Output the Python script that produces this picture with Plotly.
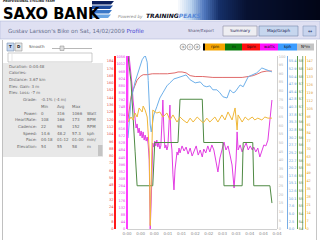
import numpy as np
import plotly.graph_objects as go

W, H = 320, 240
FONT = "DejaVu Sans, Verdana, sans-serif"

# ---------------- data ----------------
x_tick_vals = [0, 27, 54, 81, 108, 135, 162, 189, 216, 243, 270, 297]
x_tick_text = ["0:00", "0:00", "0:00", "0:01", "0:01", "0:02", "0:02", "0:03", "0:03", "0:04", "0:04", "0:04"]

power_t = [0, 2, 4, 6, 8, 10, 12, 14, 16, 18, 20, 22, 24, 26, 28, 30, 32, 34, 36, 38, 40, 42, 44, 46, 48, 50,
           51, 53, 55, 57, 59, 61, 63, 65, 67, 69, 71, 73, 75, 77, 79, 81, 83, 85, 87, 89, 91, 93, 95, 97, 99,
           101, 103, 105, 109, 113, 117, 121, 125, 129, 133, 137, 141, 145, 149, 152, 156, 160, 164, 168, 172,
           176, 180, 184, 188, 192, 196, 200, 204, 208, 212, 216, 218, 220, 224, 228, 232, 236, 240, 244, 248,
           251, 255, 259, 263, 267, 271, 275, 279, 283, 287]
power_w = [0, 1030, 1066, 1010, 960, 884, 792, 718, 657, 620, 645, 590, 620, 571, 602, 559, 596, 546, 577, 540,
           565, 516, 424, 0, 178, 485,
           528, 503, 540, 510, 546, 503, 528, 491, 510, 639, 792, 608, 497, 516, 485, 510, 620, 761, 546, 485,
           332, 240, 362, 436, 473,
           454, 497, 467, 510, 479, 503, 460, 497, 448, 485, 510, 454, 485, 442, 491, 467, 510, 473, 516, 485,
           424, 350, 436, 485, 534, 485, 510, 454, 393, 252, 424, 596, 485, 516, 473, 503, 528, 485, 510, 485,
           503, 473, 497, 442, 485, 516, 510, 546, 669, 792]

hr_t = [0, 4, 8, 12, 16, 20, 26, 32, 40, 50, 65, 80, 95, 101, 109, 117, 125, 135, 150, 170, 190, 210, 228,
        240, 250, 259, 267, 277, 287]
hr_bpm = [112, 130, 145, 152, 158, 163, 167, 169, 169, 170, 170, 170, 171, 172, 172, 171, 168, 167, 167, 166,
          166, 166, 166, 167, 168, 170, 172, 173, 173]

speed_t = [2, 8, 16, 24, 30, 36, 40, 42, 44, 46, 48, 53, 59, 65, 71, 79, 85, 93, 99, 109, 117, 125, 135, 145,
           152, 158, 164, 170, 178, 184, 190, 198, 204, 210, 214, 224, 230, 240, 248, 257, 267, 277, 287]
speed_kph = [30, 42.6, 48.5, 53.1, 55.8, 57.3, 55, 49, 41, 34.3, 32, 37.6, 40.3, 43.2, 44.9, 47.2, 48.2, 49.5,
             49.8, 50.5, 50.8, 49.2, 48.2, 48.5, 47.2, 46.9, 47.2, 45.9, 45.9, 44.9, 43.6, 43.2, 45.9, 44.9,
             45.2, 47.5, 46.9, 50.2, 50.8, 51.5, 53.1, 52.5, 51.8]

cad_t = [2, 8, 12, 16, 20, 24, 30, 32, 36, 40, 44, 46, 48, 51, 59, 65, 71, 79, 85, 91, 99, 105, 111, 119, 125,
         131, 139, 145, 151, 158, 164, 174, 180, 188, 194, 200, 208, 214, 218, 220, 228, 234, 240, 248, 253,
         259, 267, 273, 279, 287]
cad_rpm = [93.6, 98, 95.4, 101.5, 98, 105.9, 102.4, 107.6, 104, 98, 69, 3, 43, 104, 101.5, 102.4, 98, 101.5,
           95.4, 99.8, 93.6, 98, 95.4, 92.8, 97, 93.6, 98, 95.4, 92.8, 97, 93.6, 98, 93.6, 99.8, 95.4, 102.4,
           95.4, 105.9, 86.6, 99.8, 93.6, 98, 95.4, 98, 95.4, 97, 95.4, 98, 97, 97]

elev_t = [2, 8, 16, 20, 51, 55, 101, 105, 149, 152, 190, 192, 228, 230, 249, 251, 283, 287]
elev_m = [58, 57.4, 55.8, 55, 55, 56, 56, 57, 57, 56, 56, 55, 55, 56, 56, 55, 55, 54.6]

speed_tick_text = ["0.0", "2.5", "5.0", "7.6", "10.1", "12.6", "15.1", "17.6", "20.2", "22.7", "25.2", "27.7",
                   "30.2", "32.8", "35.3", "37.8", "40.3", "42.8", "45.4", "47.9", "50.4", "52.9", "55.4"]
elev_tick_text = ["54", "54", "54", "55", "55", "55", "55", "55", "55", "56", "56", "56", "56", "56", "56",
                  "57", "57", "57", "57", "57", "58", "58", "58"]

legend_labels = ["rpm", "m", "bpm", "watts", "kph", "N*m"]
legend_colors = ["#f5a400", "#0a7a0a", "#ff1010", "#ff10ff", "#3a9cff", "#c4c4c4"]

info_rows = ["Duration: 0:04:48", "Calories:", "Distance: 3.67 km", "Elev. Gain: 3 m", "Elev. Loss: -7 m"]
stat_labels = ["Power:", "HeartRate:", "Cadence:", "Speed:", "Pace:", "Elevation:"]
stat_min = ["0", "108", "22", "14.6", "04:18", "54"]
stat_avg = ["316", "166", "98", "48.2", "01:12", "55"]
stat_max = ["1066", "173", "152", "57.3", "01:00", "58"]
stat_unit = ["Watt", "BPM", "RPM", "kph", "min/", "m"]

# ---------------- helpers ----------------
def px(x):
    return x / W


def py(y):
    return 1 - y / H


shapes = []
ann = []


def rect(x0, y0, x1, y1, fill, line=None, lw=0.6):
    shapes.append(dict(type="rect", xref="paper", yref="paper", x0=px(x0), x1=px(x1), y0=py(y1), y1=py(y0),
                       fillcolor=fill, line=dict(color=line if line else fill, width=lw if line else 0)))


def hline(x0, x1, y, color, lw=0.6):
    shapes.append(dict(type="line", xref="paper", yref="paper", x0=px(x0), x1=px(x1), y0=py(y), y1=py(y),
                       line=dict(color=color, width=lw)))


def vline(x, y0, y1, color, lw=0.6):
    shapes.append(dict(type="line", xref="paper", yref="paper", x0=px(x), x1=px(x), y0=py(y0), y1=py(y1),
                       line=dict(color=color, width=lw)))


def txt(x, y, s, size=4.0, color="#666666", xanchor="left", family=FONT):
    ann.append(dict(x=px(x), y=py(y), xref="paper", yref="paper", text=s, showarrow=False, xanchor=xanchor,
                    yanchor="middle", borderpad=0, font=dict(size=size, color=color, family=family)))


# ---------------- header ----------------
stops = [(176, (255, 255, 255)), (190, (185, 210, 238)), (203, (80, 120, 190)), (218, (22, 48, 105)),
         (245, (8, 18, 50)), (321, (2, 5, 22))]
xs = np.arange(176, 321, 2)
for x in xs:
    for (a, ca), (b, cb) in zip(stops[:-1], stops[1:]):
        if a <= x <= b:
            f = (x - a) / (b - a)
            c = tuple(int(ca[i] + (cb[i] - ca[i]) * f) for i in range(3))
            break
    rect(x, 0, x + 2.2, 20, "rgb(%d,%d,%d)" % c)

# logo stripes
stripe_cols = ["#0b1f5c", "#1d4a9c", "#3a78c8", "#6aa6e4"]
for i, (y0, y1) in enumerate([(1, 4.5), (5.5, 9), (10, 13.5), (14.5, 18)]):
    x0 = 92
    xa = 114 - i * 1.0
    xb = xa - 3
    path = "M %f,%f L %f,%f L %f,%f L %f,%f Z" % (px(x0), py(y0), px(xa), py(y0), px(xb), py(y1), px(x0), py(y1))
    shapes.append(dict(type="path", xref="paper", yref="paper", path=path, fillcolor=stripe_cols[i],
                       line=dict(width=0)))

txt(2, 1.5, "<b><i>PROFESSIONAL CYCLING TEAM</i></b>", size=3.0, color="#111111")
txt(1.5, 13.4, "<b>SAXO BANK</b>", size=16.3, color="#000000",
    family="Liberation Sans Narrow, DejaVu Sans Condensed, Arial Narrow, sans-serif")
txt(117, 16.5, "<i>Powered by</i>", size=4.2, color="#888888")
txt(145, 16, "<b><i>TRAINING<span style='color:#5a8ad8'>PEAKS</span></i></b>", size=6.0, color="#0a0a20")

# ---------------- title bar ----------------
rect(0, 21, 320, 39, "#dfe0f2", "#b4b8d8", 0.6)
txt(7, 30.5, "Gustav Larsson's Bike on Sat, 14/02/2009 <span style='color:#4646d2'>Profile</span>",
    size=5.6, color="#6a7290")
txt(187, 31, "Share/Export", size=4.0, color="#555577")
rect(223, 26, 257, 36, "#eeeef2", "#8a8aa0", 0.6)
txt(240, 31, "Summary", size=4.2, color="#222255", xanchor="center")
rect(259, 26, 298, 36, "#c6d6ee", "#7688aa", 0.6)
txt(278.5, 31, "Map/Graph", size=4.2, color="#222255", xanchor="center")
rect(303, 26, 316, 36, "#c8d4ee", "#8899bb", 0.6)
txt(309.5, 31, "<b>↔</b>", size=5, color="#334477", xanchor="center")

# ---------------- left panel ----------------
vline(2.5, 40, 240, "#b0b0b0", 0.8)
rect(7, 43, 14, 51, "#c8d8f0", "#7890b0", 0.6)
txt(10.5, 47, "<b>T</b>", size=4, color="#222222", xanchor="center")
rect(15, 43, 22, 51, "#e6e6e6", "#999999", 0.6)
txt(18.5, 47, "<b>D</b>", size=4, color="#222222", xanchor="center")
txt(28, 47, "Smooth", size=4, color="#555555")
hline(52, 92, 48.5, "#999999", 0.7)
rect(60, 46, 64, 50.5, "#dddddd", "#888888", 0.5)
rect(8, 53, 92, 62, "#ffffff", "#aaaaaa", 0.6)
vline(12, 54, 61, "#cccccc", 0.5)
rect(3, 63, 103, 157, "#e8e8e8")
rect(98, 145, 102.5, 156, "#c4c4c4")

ystep = 6.72
for i, s in enumerate(info_rows):
    txt(8, 66 + ystep * i, s)
yg = 66 + ystep * 5
txt(37.5, yg, "Grade:", xanchor="right")
txt(40, yg, "-0.1% (-4 m)")
yh = 66 + ystep * 6
txt(40, yh, "Min")
txt(55.5, yh, "Avg")
txt(70.5, yh, "Max")
for j in range(len(stat_labels)):
    yy = 66 + ystep * (7 + j)
    txt(37.5, yy, stat_labels[j], xanchor="right")
    txt(40, yy, stat_min[j])
    txt(55.5, yy, stat_avg[j])
    txt(70.5, yy, stat_max[j])
    txt(86, yy, stat_unit[j])

# ---------------- chart toolbar ----------------
for cx, g in zip([183, 190, 197], ["«", "›", "»"]):
    shapes.append(dict(type="circle", xref="paper", yref="paper", x0=px(cx - 3), x1=px(cx + 3),
                       y0=py(50), y1=py(44), fillcolor="#f2f2f2", line=dict(color="#888888", width=0.6)))
    txt(cx, 47, g, size=4, color="#333333", xanchor="center")
rect(203, 43.5, 205, 50.5, "#000000")
edges = [205, 225, 242, 260, 278, 297, 314]
for k, (lab, col) in enumerate(zip(legend_labels, legend_colors)):
    rect(edges[k], 43.5, edges[k + 1], 50.5, col)
    txt((edges[k] + edges[k + 1]) / 2, 47, lab, size=4, color="#111111", xanchor="center")

# right page scrollbar border + extra green axis line
vline(316.5, 40, 240, "#b8b8b8", 0.8)
vline(302.7, 56, 229, "#6a9a5a", 0.8)

# ---------------- traces ----------------
fig = go.Figure()
fig.add_trace(go.Scatter(x=elev_t, y=elev_m, yaxis="y5", mode="lines", line=dict(color="#4f8a44", width=1)))
fig.add_trace(go.Scatter(x=cad_t, y=cad_rpm, yaxis="y6", mode="lines", line=dict(color="#f0b83a", width=1)))
fig.add_trace(go.Scatter(x=speed_t, y=speed_kph, yaxis="y4", mode="lines", line=dict(color="#6eb0ea", width=1)))
fig.add_trace(go.Scatter(x=hr_t, y=hr_bpm, yaxis="y", mode="lines", line=dict(color="#e06a6a", width=1)))
fig.add_trace(go.Scatter(x=power_t, y=power_w, yaxis="y2", mode="lines", line=dict(color="#e23ce2", width=1)))
fig.add_trace(go.Scatter(x=[0], y=[0], yaxis="y3", mode="lines", line=dict(color="rgba(0,0,0,0)", width=0)))

top, bot = 56, 229
dom = [py(bot), py(top)]
frac = (bot - top) / 168.0


def yax(color, lcolor, pos, side, rng, lw=1.0, **kw):
    d = dict(domain=dom, anchor="free", position=px(pos), side=side, range=rng, showgrid=False,
             zeroline=False, ticks="", showline=True, linecolor=lcolor, linewidth=lw, automargin=False,
             fixedrange=True, tickfont=dict(size=3.5, color=color, family=FONT))
    d.update(kw)
    return d


fig.update_layout(
    width=W, height=H, margin=dict(l=0, r=0, t=0, b=0), template="none",
    paper_bgcolor="#ffffff", plot_bgcolor="rgba(0,0,0,0)", showlegend=False,
    shapes=shapes, annotations=ann,
    xaxis=dict(domain=[px(127), px(277)], range=[0, 297], tickvals=x_tick_vals, ticktext=x_tick_text,
               showgrid=False, zeroline=False, ticks="", showline=True, linecolor="#d0d0d0", linewidth=0.8,
               automargin=False, fixedrange=True, anchor="y",
               tickfont=dict(size=4, color="#8a8a8a", family=FONT)),
    yaxis=yax("#e03a3a", "#ff1a1a", 115, "left", [0, 184 * frac], lw=1.5, tick0=0, dtick=8),
    yaxis2=yax("#e040e0", "#ff3cff", 127, "left", [0, 1056 * (bot - top) / 172.0], lw=2.0, overlaying="y",
               tick0=0, dtick=44),
    yaxis3=yax("#b4b4b4", "#cfcfcf", 277, "right", [0, 100.2], overlaying="y", tick0=0, dtick=5),
    yaxis4=yax("#5b9bd5", "#78aee6", 287, "right", [0, 55.4 * frac], overlaying="y",
               tickvals=list(np.linspace(0, 55.4, 23)), ticktext=speed_tick_text),
    yaxis5=yax("#4a7a3a", "#5a9a4a", 297, "right", [54, 58], overlaying="y",
               tickvals=list(np.linspace(54, 54 + 4 * 168 / 173.0, 23)), ticktext=elev_tick_text),
    yaxis6=yax("#e0a030", "#f2c25a", 304.7, "right", [0, 147 * frac], overlaying="y", tick0=0, dtick=7),
)

fig.write_html("out.html")
